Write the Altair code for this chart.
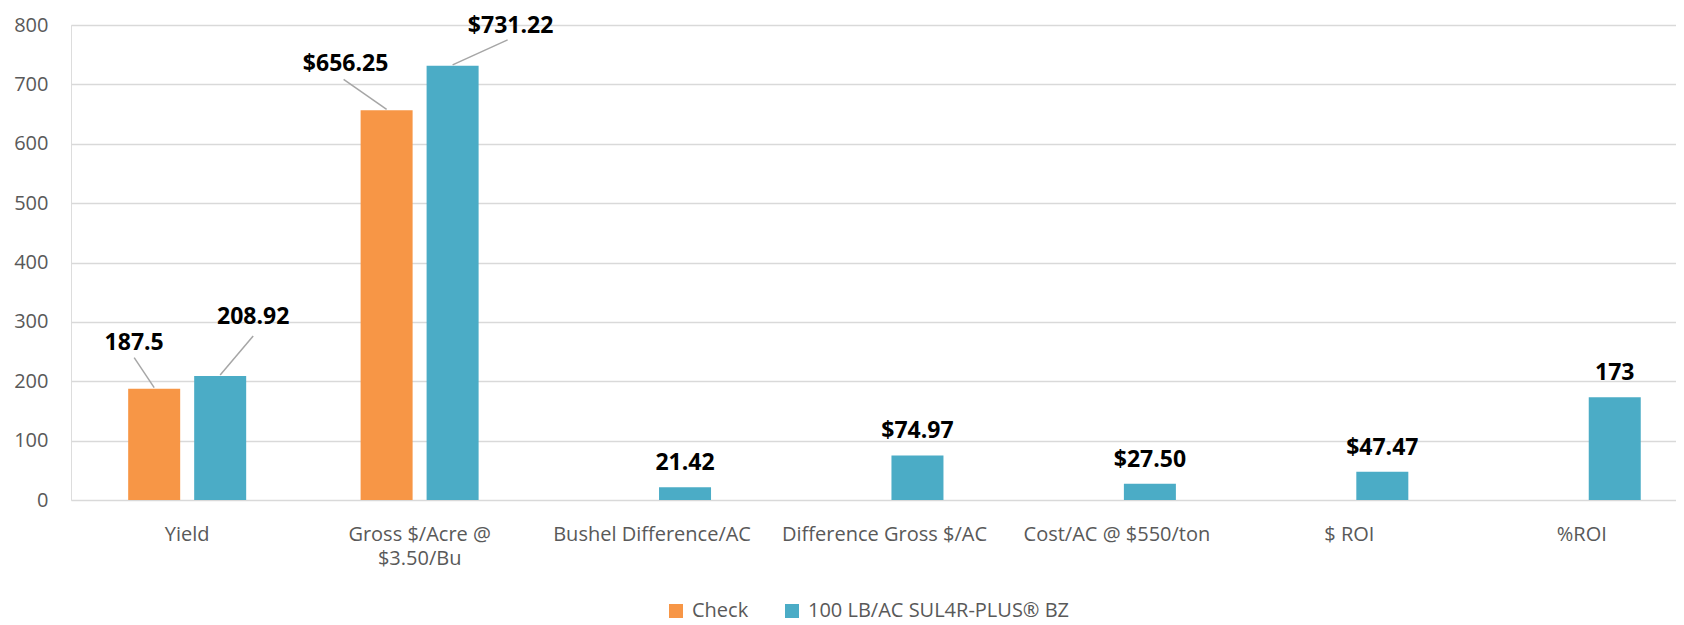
import altair as alt
import pandas as pd

# ---------------- data ----------------
categories = [
    "Yield",
    "Gross $/Acre @ $3.50/Bu",
    "Bushel Difference/AC",
    "Difference Gross $/AC",
    "Cost/AC @ $550/ton",
    "$ ROI",
    "%ROI",
]
series_names = ["Check", "100 LB/AC SUL4R-PLUS® BZ"]
check_values = [187.5, 656.25, None, None, None, None, None]
check_labels = ["187.5", "$656.25", None, None, None, None, None]
sul4r_values = [208.92, 731.22, 21.42, 74.97, 27.50, 47.47, 173]
sul4r_labels = ["208.92", "$731.22", "21.42", "$74.97", "$27.50", "$47.47", "173"]
y_ticks = [0, 100, 200, 300, 400, 500, 600, 700, 800]

rows = []
for cat, v, lab in zip(categories, check_values, check_labels):
    if v is not None:
        rows.append({"category": cat, "series": series_names[0], "value": v, "label": lab})
for cat, v, lab in zip(categories, sul4r_values, sul4r_labels):
    if v is not None:
        rows.append({"category": cat, "series": series_names[1], "value": v, "label": lab})
df = pd.DataFrame(rows)

# ---------------- style ----------------
colors = ["#F79646", "#4BACC6"]
FONT = "Open Sans"
GREY_TXT = "#595959"
LEADER = "#A6A6A6"

base = alt.Chart(df).encode(
    x=alt.X(
        "category:N",
        sort=categories,
        scale=alt.Scale(domain=categories, range=[0, 1627], paddingInner=0.492, paddingOuter=0.246),
        axis=alt.Axis(
            title=None, ticks=False, tickSize=0, domain=False, grid=False, labelAngle=0,
            labelFont=FONT, labelFontSize=20, labelColor=GREY_TXT, labelPadding=24,
            labelLimit=400, labelOverlap=False, labelLineHeight=24,
            labelExpr="datum.label == 'Gross $/Acre @ $3.50/Bu' ? ['Gross $/Acre @', '$3.50/Bu'] : datum.label",
        ),
    ),
    xOffset=alt.XOffset(
        "series:N",
        sort=series_names,
        scale=alt.Scale(domain=series_names, range=[0, 118], paddingInner=0.212, paddingOuter=0),
    ),
    y=alt.Y(
        "value:Q",
        scale=alt.Scale(domain=[0, 800], nice=False),
        axis=alt.Axis(
            title=None, values=y_ticks, ticks=False, tickSize=0, domain=False,
            grid=True, gridColor="#D9D9D9", gridWidth=1.5,
            labelFont=FONT, labelFontSize=20, labelColor=GREY_TXT, labelPadding=23,
        ),
    ),
)

bars = base.mark_bar().encode(
    color=alt.Color(
        "series:N",
        sort=series_names,
        scale=alt.Scale(domain=series_names, range=colors),
        legend=alt.Legend(
            title=None, orient="none", legendX=595, legendY=576, direction="horizontal",
            symbolType="square", symbolSize=196, symbolStrokeWidth=0,
            labelFont=FONT, labelFontSize=20, labelColor=GREY_TXT, labelLimit=500,
            labelOffset=6, columnPadding=33,
        ),
    )
)

leader_cats = categories[:2]
plain_labels = base.mark_text(
    font=FONT, fontWeight="bold", fontSize=23, baseline="alphabetic", dy=-17, color="black"
).encode(text="label:N").transform_filter(
    ~alt.FieldOneOfPredicate(field="category", oneOf=leader_cats)
)

# (category, series, text dx, text dy, leader path in px)
leaders = [
    (categories[0], series_names[0], -20, -46, "M0,-1L-20,-31"),
    (categories[0], series_names[1], 33, -59, "M0,-1L33,-40"),
    (categories[1], series_names[0], -41, -46, "M0,-1L-43,-31"),
    (categories[1], series_names[1], 58, -40, "M0,-1L55,-26"),
]

layers = [bars, plain_labels]
for cat, ser, dx, dy, path in leaders:
    flt = (alt.datum.category == cat) & (alt.datum.series == ser)
    layers.append(
        base.mark_point(shape=path, size=4, filled=False, color=LEADER, strokeWidth=1.5, opacity=1)
        .transform_filter(flt)
    )
    layers.append(
        base.mark_text(font=FONT, fontWeight="bold", fontSize=23, baseline="middle",
                       dx=dx, dy=dy, color="black")
        .encode(text="label:N")
        .transform_filter(flt)
    )

chart = alt.layer(*layers).properties(
    width=1605,
    height=475,
    padding={"left": 63, "top": 17, "right": 0, "bottom": 125},
    autosize=alt.AutoSizeParams(type="none"),
).configure_view(stroke=None).configure(background="white")

chart.save("out.html", embed_options={"renderer": "svg", "actions": False})
